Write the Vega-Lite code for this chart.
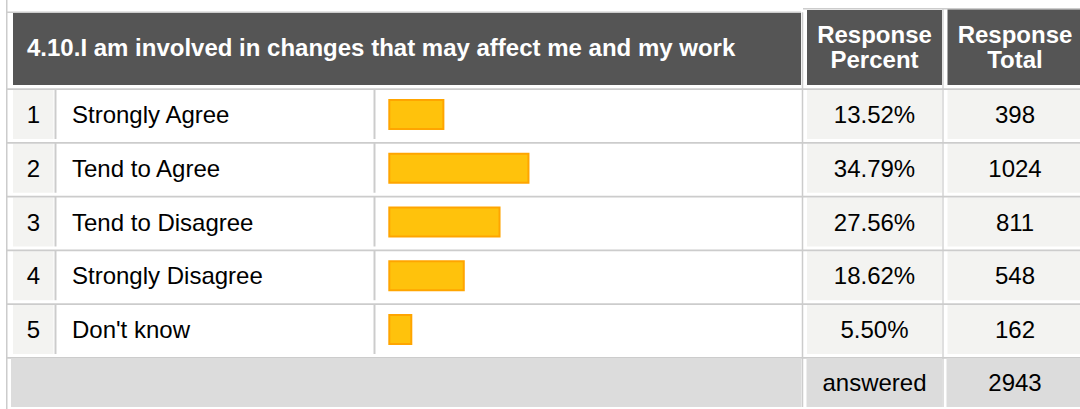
{
  "$schema": "https://vega.github.io/schema/vega-lite/v6.json",
  "width": 1080,
  "height": 409,
  "autosize": {"type": "none"},
  "padding": 0,
  "background": "#ffffff",
  "config": {"view": {"stroke": null}, "text": {"font": "Liberation Sans", "fontSize": 24, "baseline": "middle"}},
  "datasets": {
    "rows": [
      {"num": 1, "label": "Strongly Agree", "share": 0.1352, "total": 398},
      {"num": 2, "label": "Tend to Agree", "share": 0.3479, "total": 1024},
      {"num": 3, "label": "Tend to Disagree", "share": 0.2756, "total": 811},
      {"num": 4, "label": "Strongly Disagree", "share": 0.1862, "total": 548},
      {"num": 5, "label": "Don't know", "share": 0.055, "total": 162}
    ],
    "header": [{"question": "4.10.I am involved in changes that may affect me and my work"}],
    "summary": [{"label": "answered", "answered": 2943}]
  },
  "resolve": {"scale": {"x": "independent"}},
  "layer": [
    {
      "data": {"name": "header"},
      "mark": {"type": "rule", "stroke": "#cccccc", "strokeWidth": 1.5},
      "encoding": {
        "x": {"datum": 6.75, "type": "quantitative", "scale": {"domain": [0, 1080], "range": [0, 1080]}, "axis": null},
        "y": {"datum": -1.2, "type": "quantitative", "scale": {"domain": [0, 6], "range": [60.75, 383.25], "nice": false, "zero": false}, "axis": null},
        "y2": {"datum": 6.6}
      }
    },
    {
      "data": {"name": "header"},
      "mark": {"type": "rule", "stroke": "#cccccc", "strokeWidth": 1.5, "yOffset": -48.5, "y2Offset": -48.5},
      "encoding": {
        "x": {"datum": 7, "type": "quantitative", "scale": {"domain": [0, 1080], "range": [0, 1080]}, "axis": null},
        "x2": {"datum": 801},
        "y": {"datum": 0, "type": "quantitative", "scale": {"domain": [0, 6], "range": [60.75, 383.25], "nice": false, "zero": false}, "axis": null}
      }
    },
    {
      "data": {"name": "header"},
      "mark": {"type": "rule", "stroke": "#cccccc", "strokeWidth": 1.5, "yOffset": -52, "y2Offset": -52},
      "encoding": {
        "x": {"datum": 803, "type": "quantitative", "scale": {"domain": [0, 1080], "range": [0, 1080]}, "axis": null},
        "x2": {"datum": 1080},
        "y": {"datum": 0, "type": "quantitative", "scale": {"domain": [0, 6], "range": [60.75, 383.25], "nice": false, "zero": false}, "axis": null}
      }
    },
    {
      "data": {"name": "header"},
      "mark": {"type": "rect", "fill": "#555555", "yOffset": -47.75, "y2Offset": 24.25},
      "encoding": {
        "x": {"datum": 13, "type": "quantitative", "scale": {"domain": [0, 1080], "range": [0, 1080]}, "axis": null},
        "x2": {"datum": 801},
        "y": {"datum": 0, "type": "quantitative", "scale": {"domain": [0, 6], "range": [60.75, 383.25], "nice": false, "zero": false}, "axis": null},
        "y2": {"datum": 0}
      }
    },
    {
      "data": {"name": "header"},
      "mark": {"type": "rect", "fill": "#555555", "yOffset": -50.75, "y2Offset": 24.25},
      "encoding": {
        "x": {"datum": 807, "type": "quantitative", "scale": {"domain": [0, 1080], "range": [0, 1080]}, "axis": null},
        "x2": {"datum": 942},
        "y": {"datum": 0, "type": "quantitative", "scale": {"domain": [0, 6], "range": [60.75, 383.25], "nice": false, "zero": false}, "axis": null},
        "y2": {"datum": 0}
      }
    },
    {
      "data": {"name": "header"},
      "mark": {"type": "rect", "fill": "#555555", "yOffset": -51.25, "y2Offset": 24.25},
      "encoding": {
        "x": {"datum": 947.5, "type": "quantitative", "scale": {"domain": [0, 1080], "range": [0, 1080]}, "axis": null},
        "x2": {"datum": 1081},
        "y": {"datum": 0, "type": "quantitative", "scale": {"domain": [0, 6], "range": [60.75, 383.25], "nice": false, "zero": false}, "axis": null},
        "y2": {"datum": 0}
      }
    },
    {
      "data": {"name": "header"},
      "mark": {"type": "text", "align": "left", "fontWeight": "bold", "color": "#ffffff", "yOffset": -11.75},
      "encoding": {
        "x": {"datum": 27, "type": "quantitative", "scale": {"domain": [0, 1080], "range": [0, 1080]}, "axis": null},
        "y": {"datum": 0, "type": "quantitative", "scale": {"domain": [0, 6], "range": [60.75, 383.25], "nice": false, "zero": false}, "axis": null},
        "text": {"field": "question", "type": "nominal"}
      }
    },
    {
      "data": {"name": "header"},
      "mark": {"type": "text", "align": "center", "fontWeight": "bold", "color": "#ffffff", "yOffset": -24.5, "lineHeight": 25, "text": ["Response", "Percent"]},
      "encoding": {
        "x": {"datum": 874.5, "type": "quantitative", "scale": {"domain": [0, 1080], "range": [0, 1080]}, "axis": null},
        "y": {"datum": 0, "type": "quantitative", "scale": {"domain": [0, 6], "range": [60.75, 383.25], "nice": false, "zero": false}, "axis": null}
      }
    },
    {
      "data": {"name": "header"},
      "mark": {"type": "text", "align": "center", "fontWeight": "bold", "color": "#ffffff", "yOffset": -24.5, "lineHeight": 25, "text": ["Response", "Total"]},
      "encoding": {
        "x": {"datum": 1015, "type": "quantitative", "scale": {"domain": [0, 1080], "range": [0, 1080]}, "axis": null},
        "y": {"datum": 0, "type": "quantitative", "scale": {"domain": [0, 6], "range": [60.75, 383.25], "nice": false, "zero": false}, "axis": null}
      }
    },
    {
      "data": {"name": "rows"},
      "mark": {"type": "rect", "fill": "#f3f3f1", "yOffset": -24.5, "y2Offset": 24.5},
      "encoding": {
        "x": {"datum": 13, "type": "quantitative", "scale": {"domain": [0, 1080], "range": [0, 1080]}, "axis": null},
        "x2": {"datum": 53.5},
        "y": {"field": "num", "type": "quantitative", "scale": {"domain": [0, 6], "range": [60.75, 383.25], "nice": false, "zero": false}, "axis": null},
        "y2": {"field": "num"}
      }
    },
    {
      "data": {"name": "rows"},
      "mark": {"type": "rect", "fill": "#f3f3f1", "yOffset": -24.5, "y2Offset": 24.5},
      "encoding": {
        "x": {"datum": 807, "type": "quantitative", "scale": {"domain": [0, 1080], "range": [0, 1080]}, "axis": null},
        "x2": {"datum": 942},
        "y": {"field": "num", "type": "quantitative", "scale": {"domain": [0, 6], "range": [60.75, 383.25], "nice": false, "zero": false}, "axis": null},
        "y2": {"field": "num"}
      }
    },
    {
      "data": {"name": "rows"},
      "mark": {"type": "rect", "fill": "#f3f3f1", "yOffset": -24.5, "y2Offset": 24.5},
      "encoding": {
        "x": {"datum": 947.5, "type": "quantitative", "scale": {"domain": [0, 1080], "range": [0, 1080]}, "axis": null},
        "x2": {"datum": 1081},
        "y": {"field": "num", "type": "quantitative", "scale": {"domain": [0, 6], "range": [60.75, 383.25], "nice": false, "zero": false}, "axis": null},
        "y2": {"field": "num"}
      }
    },
    {
      "data": {"name": "rows"},
      "mark": {"type": "rule", "stroke": "#cccccc", "strokeWidth": 1.75, "yOffset": -25.5, "y2Offset": -25.5},
      "encoding": {
        "x": {"datum": 7, "type": "quantitative", "scale": {"domain": [0, 1080], "range": [0, 1080]}, "axis": null},
        "x2": {"datum": 1080},
        "y": {"field": "num", "type": "quantitative", "scale": {"domain": [0, 6], "range": [60.75, 383.25], "nice": false, "zero": false}, "axis": null}
      }
    },
    {
      "data": {"name": "rows"},
      "mark": {"type": "rule", "stroke": "#cccccc", "strokeWidth": 2, "yOffset": -25.5, "y2Offset": 24.5},
      "encoding": {
        "x": {"datum": 55.5, "type": "quantitative", "scale": {"domain": [0, 1080], "range": [0, 1080]}, "axis": null},
        "y": {"field": "num", "type": "quantitative", "scale": {"domain": [0, 6], "range": [60.75, 383.25], "nice": false, "zero": false}, "axis": null},
        "y2": {"field": "num"}
      }
    },
    {
      "data": {"name": "rows"},
      "mark": {"type": "rule", "stroke": "#cccccc", "strokeWidth": 2, "yOffset": -25.5, "y2Offset": 24.5},
      "encoding": {
        "x": {"datum": 374.5, "type": "quantitative", "scale": {"domain": [0, 1080], "range": [0, 1080]}, "axis": null},
        "y": {"field": "num", "type": "quantitative", "scale": {"domain": [0, 6], "range": [60.75, 383.25], "nice": false, "zero": false}, "axis": null},
        "y2": {"field": "num"}
      }
    },
    {
      "data": {"name": "header"},
      "mark": {"type": "rule", "stroke": "#cccccc", "strokeWidth": 1.5, "yOffset": -48.5, "y2Offset": 23.75},
      "encoding": {
        "x": {"datum": 802.5, "type": "quantitative", "scale": {"domain": [0, 1080], "range": [0, 1080]}, "axis": null},
        "y": {"datum": 0, "type": "quantitative", "scale": {"domain": [0, 6], "range": [60.75, 383.25], "nice": false, "zero": false}, "axis": null},
        "y2": {"datum": 6}
      }
    },
    {
      "data": {"name": "header"},
      "mark": {"type": "rule", "stroke": "#cccccc", "strokeWidth": 1.25, "yOffset": -52, "y2Offset": 23.75},
      "encoding": {
        "x": {"datum": 943, "type": "quantitative", "scale": {"domain": [0, 1080], "range": [0, 1080]}, "axis": null},
        "y": {"datum": 0, "type": "quantitative", "scale": {"domain": [0, 6], "range": [60.75, 383.25], "nice": false, "zero": false}, "axis": null},
        "y2": {"datum": 6}
      }
    },
    {
      "data": {"name": "rows"},
      "mark": {"type": "rect", "fill": "#ffc20c", "stroke": "#ffa500", "strokeWidth": 2, "yOffset": -14.5, "y2Offset": 14.5},
      "encoding": {
        "x": {"field": "share", "type": "quantitative", "scale": {"domain": [0, 1], "range": [389.3, 789.3], "nice": false, "zero": false}, "axis": null},
        "x2": {"datum": 0},
        "y": {"field": "num", "type": "quantitative", "scale": {"domain": [0, 6], "range": [60.75, 383.25], "nice": false, "zero": false}, "axis": null},
        "y2": {"field": "num"}
      }
    },
    {
      "data": {"name": "rows"},
      "mark": {"type": "text", "align": "center", "color": "#000000", "yOffset": 1.5},
      "encoding": {
        "x": {"datum": 33.5, "type": "quantitative", "scale": {"domain": [0, 1080], "range": [0, 1080]}, "axis": null},
        "y": {"field": "num", "type": "quantitative", "scale": {"domain": [0, 6], "range": [60.75, 383.25], "nice": false, "zero": false}, "axis": null},
        "text": {"field": "num", "type": "quantitative"}
      }
    },
    {
      "data": {"name": "rows"},
      "mark": {"type": "text", "align": "left", "color": "#000000", "yOffset": 1.5},
      "encoding": {
        "x": {"datum": 72, "type": "quantitative", "scale": {"domain": [0, 1080], "range": [0, 1080]}, "axis": null},
        "y": {"field": "num", "type": "quantitative", "scale": {"domain": [0, 6], "range": [60.75, 383.25], "nice": false, "zero": false}, "axis": null},
        "text": {"field": "label", "type": "nominal"}
      }
    },
    {
      "data": {"name": "rows"},
      "mark": {"type": "text", "align": "center", "color": "#000000", "yOffset": 1.5},
      "encoding": {
        "x": {"datum": 874.5, "type": "quantitative", "scale": {"domain": [0, 1080], "range": [0, 1080]}, "axis": null},
        "y": {"field": "num", "type": "quantitative", "scale": {"domain": [0, 6], "range": [60.75, 383.25], "nice": false, "zero": false}, "axis": null},
        "text": {"field": "share", "type": "quantitative", "format": ".2%"}
      }
    },
    {
      "data": {"name": "rows"},
      "mark": {"type": "text", "align": "center", "color": "#000000", "yOffset": 1.5},
      "encoding": {
        "x": {"datum": 1015, "type": "quantitative", "scale": {"domain": [0, 1080], "range": [0, 1080]}, "axis": null},
        "y": {"field": "num", "type": "quantitative", "scale": {"domain": [0, 6], "range": [60.75, 383.25], "nice": false, "zero": false}, "axis": null},
        "text": {"field": "total", "type": "quantitative", "format": "d"}
      }
    },
    {
      "data": {"name": "summary"},
      "mark": {"type": "rule", "stroke": "#cccccc", "strokeWidth": 1.75, "yOffset": -25.5, "y2Offset": -25.5},
      "encoding": {
        "x": {"datum": 7, "type": "quantitative", "scale": {"domain": [0, 1080], "range": [0, 1080]}, "axis": null},
        "x2": {"datum": 1080},
        "y": {"datum": 6, "type": "quantitative", "scale": {"domain": [0, 6], "range": [60.75, 383.25], "nice": false, "zero": false}, "axis": null}
      }
    },
    {
      "data": {"name": "summary"},
      "mark": {"type": "rect", "fill": "#dcdcdc", "yOffset": -25.25, "y2Offset": 23.75},
      "encoding": {
        "x": {"datum": 11, "type": "quantitative", "scale": {"domain": [0, 1080], "range": [0, 1080]}, "axis": null},
        "x2": {"datum": 801.5},
        "y": {"datum": 6, "type": "quantitative", "scale": {"domain": [0, 6], "range": [60.75, 383.25], "nice": false, "zero": false}, "axis": null},
        "y2": {"datum": 6}
      }
    },
    {
      "data": {"name": "summary"},
      "mark": {"type": "rect", "fill": "#dcdcdc", "yOffset": -25.25, "y2Offset": 23.75},
      "encoding": {
        "x": {"datum": 806.5, "type": "quantitative", "scale": {"domain": [0, 1080], "range": [0, 1080]}, "axis": null},
        "x2": {"datum": 942},
        "y": {"datum": 6, "type": "quantitative", "scale": {"domain": [0, 6], "range": [60.75, 383.25], "nice": false, "zero": false}, "axis": null},
        "y2": {"datum": 6}
      }
    },
    {
      "data": {"name": "summary"},
      "mark": {"type": "rect", "fill": "#dcdcdc", "yOffset": -25.25, "y2Offset": 23.75},
      "encoding": {
        "x": {"datum": 946.5, "type": "quantitative", "scale": {"domain": [0, 1080], "range": [0, 1080]}, "axis": null},
        "x2": {"datum": 1081},
        "y": {"datum": 6, "type": "quantitative", "scale": {"domain": [0, 6], "range": [60.75, 383.25], "nice": false, "zero": false}, "axis": null},
        "y2": {"datum": 6}
      }
    },
    {
      "data": {"name": "summary"},
      "mark": {"type": "text", "align": "center", "color": "#000000", "yOffset": 0.5},
      "encoding": {
        "x": {"datum": 874.5, "type": "quantitative", "scale": {"domain": [0, 1080], "range": [0, 1080]}, "axis": null},
        "y": {"datum": 6, "type": "quantitative", "scale": {"domain": [0, 6], "range": [60.75, 383.25], "nice": false, "zero": false}, "axis": null},
        "text": {"field": "label", "type": "nominal"}
      }
    },
    {
      "data": {"name": "summary"},
      "mark": {"type": "text", "align": "center", "color": "#000000", "yOffset": 0.5},
      "encoding": {
        "x": {"datum": 1015, "type": "quantitative", "scale": {"domain": [0, 1080], "range": [0, 1080]}, "axis": null},
        "y": {"datum": 6, "type": "quantitative", "scale": {"domain": [0, 6], "range": [60.75, 383.25], "nice": false, "zero": false}, "axis": null},
        "text": {"field": "answered", "type": "quantitative", "format": "d"}
      }
    }
  ]
}
